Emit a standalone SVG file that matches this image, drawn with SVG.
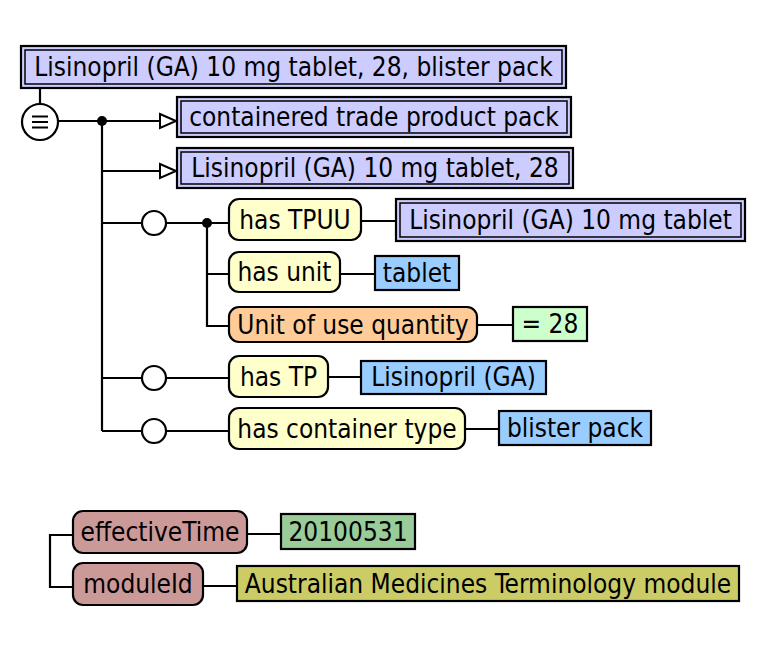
<svg xmlns="http://www.w3.org/2000/svg" width="784" height="660" viewBox="0 0 784 660">
<style>
text{font-family:"DejaVu Sans Condensed","DejaVu Sans",sans-serif;font-stretch:condensed;font-size:26px;fill:#000;text-anchor:middle}
.ln{stroke:#000;stroke-width:2.2;fill:none}
.dbl{fill:#ccccff;stroke:#000;stroke-width:2.2}
.dbli{fill:none;stroke:#000;stroke-width:1.5}
.attr{fill:#ffffcc;stroke:#000;stroke-width:2.2}
.cattr{fill:#ffcc99;stroke:#000;stroke-width:2.2}
.prim{fill:#99ccff;stroke:#000;stroke-width:2.2}
.num{fill:#ccffcc;stroke:#000;stroke-width:2.2}
.meta{fill:#cc9999;stroke:#000;stroke-width:2.2}
.time{fill:#99cc99;stroke:#000;stroke-width:2.2}
.mod{fill:#cccc66;stroke:#000;stroke-width:2.2}
.grp{fill:#fff;stroke:#000;stroke-width:2.2}
.dot{fill:#000}
.arr{fill:#fff;stroke:#000;stroke-width:2}
</style>
<g id="connectors">
<path class="ln" d="M40 88 V104"/>
<path class="ln" d="M58 121 H160"/>
<circle class="dot" cx="102" cy="121" r="5"/>
<path class="ln" d="M102 121 V431"/>
<path class="ln" d="M102 171 H160"/>
<polygon class="arr" points="160,114 176,121 160,128"/>
<polygon class="arr" points="160,164 176,171 160,178"/>
<path class="ln" d="M102 223 H142 M166 223 H229"/>
<circle class="grp" cx="154" cy="223" r="12"/>
<circle class="dot" cx="207" cy="223" r="5"/>
<path class="ln" d="M207 223 V326 H229 M207 274 H229"/>
<path class="ln" d="M361 221 H396"/>
<path class="ln" d="M340 274 H375"/>
<path class="ln" d="M477 325 H513"/>
<path class="ln" d="M102 378 H142 M166 378 H229"/>
<circle class="grp" cx="154" cy="378" r="12"/>
<path class="ln" d="M328 377 H361"/>
<path class="ln" d="M102 431 H142 M166 431 H229"/>
<circle class="grp" cx="154" cy="431" r="12"/>
<path class="ln" d="M465 429 H499"/>
<path class="ln" d="M73 535 H50 V587 H73"/>
<path class="ln" d="M247 534 H281"/>
<path class="ln" d="M203 586 H237"/>
</g>
<g id="focus">
<rect class="dbl" x="21" y="46" width="545" height="42"/>
<rect class="dbli" x="25" y="50" width="537" height="34"/>
<text x="293.5" y="76">Lisinopril (GA) 10 mg tablet, 28, blister pack</text>
</g>
<g id="defop">
<circle class="grp" cx="40" cy="122" r="18"/>
<path class="ln" d="M32 116.5 H48 M32 122 H48 M32 127.5 H48"/>
</g>
<g id="parent1">
<rect class="dbl" x="177" y="97" width="394" height="40"/>
<rect class="dbli" x="181" y="101" width="386" height="32"/>
<text x="374" y="126">containered trade product pack</text>
</g>
<g id="parent2">
<rect class="dbl" x="177" y="148" width="396" height="40"/>
<rect class="dbli" x="181" y="152" width="388" height="32"/>
<text x="375" y="177">Lisinopril (GA) 10 mg tablet, 28</text>
</g>
<g id="hasTPUU">
<rect class="attr" x="229" y="199" width="132" height="41" rx="10"/>
<text x="295" y="229">has TPUU</text>
</g>
<g id="tpuu">
<rect class="dbl" x="396" y="199" width="349" height="42"/>
<rect class="dbli" x="400" y="203" width="341" height="34"/>
<text x="570.5" y="229">Lisinopril (GA) 10 mg tablet</text>
</g>
<g id="hasUnit">
<rect class="attr" x="229" y="252" width="111" height="40" rx="10"/>
<text x="284.5" y="281">has unit</text>
</g>
<g id="tablet">
<rect class="prim" x="375" y="256" width="84" height="34"/>
<text x="417" y="282">tablet</text>
</g>
<g id="uou">
<rect class="cattr" x="229" y="307" width="248" height="35" rx="10"/>
<text x="353" y="334">Unit of use quantity</text>
</g>
<g id="qty">
<rect class="num" x="513" y="307" width="74" height="34"/>
<text x="550" y="333">= 28</text>
</g>
<g id="hasTP">
<rect class="attr" x="229" y="356" width="99" height="41" rx="10"/>
<text x="278.5" y="386">has TP</text>
</g>
<g id="tp">
<rect class="prim" x="361" y="361" width="185" height="33"/>
<text x="453.5" y="386">Lisinopril (GA)</text>
</g>
<g id="hasContainer">
<rect class="attr" x="229" y="408" width="236" height="41" rx="10"/>
<text x="347" y="438">has container type</text>
</g>
<g id="blister">
<rect class="prim" x="499" y="411" width="152" height="34"/>
<text x="575" y="437">blister pack</text>
</g>
<g id="effectiveTime">
<rect class="meta" x="73" y="511" width="174" height="42" rx="10"/>
<text x="160" y="541">effectiveTime</text>
</g>
<g id="time">
<rect class="time" x="281" y="514" width="134" height="35"/>
<text x="348" y="541">20100531</text>
</g>
<g id="moduleId">
<rect class="meta" x="73" y="563" width="130" height="42" rx="10"/>
<text x="138" y="593">moduleId</text>
</g>
<g id="module">
<rect class="mod" x="237" y="566" width="502" height="35"/>
<text x="488" y="593">Australian Medicines Terminology module</text>
</g>
</svg>
